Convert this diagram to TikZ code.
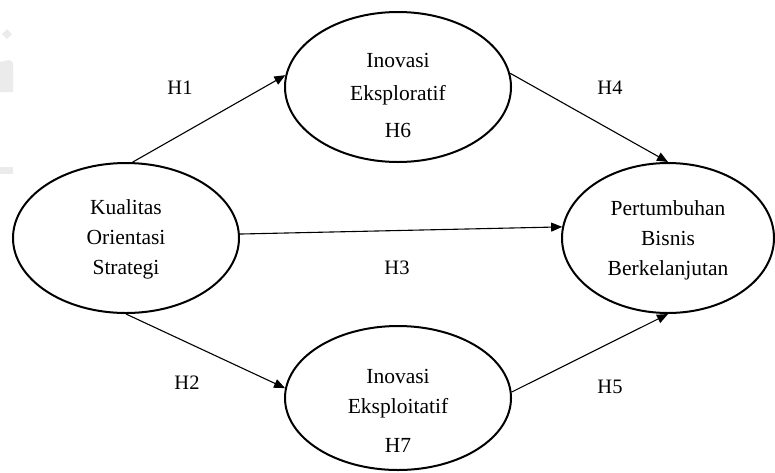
\documentclass[tikz,border=0pt]{standalone}
\usepackage{fontspec}
\setmainfont{Liberation Serif}
\usetikzlibrary{shapes.geometric,arrows.meta}
\begin{document}
\begin{tikzpicture}[x=1pt,y=-1pt,
  var/.style={ellipse,draw=black,line width=2pt,inner sep=0pt},
  vtext/.style={font=\fontsize{21.5}{30}\selectfont,align=center,inner sep=0pt},
  hlab/.style={font=\fontsize{20.5}{24}\selectfont,inner sep=0pt},
  conn/.style={line width=1.1pt,-{Triangle[length=11pt,width=9pt]}},
  wm/.style={fill=black!8,draw=none}]
\useasboundingbox (0,0) rectangle (775,472);
% faint watermark remnant
\fill[wm] (7,29) -- (12,34) -- (7,39) -- (2,34) -- cycle;
\fill[wm] (0,62) -- (9,60) .. controls (12,60) and (13,62) .. (13,66) -- (13,92) -- (0,92) -- cycle;
\fill[wm] (0,167) rectangle (13,174);
% ellipses
\node[var,minimum width=226pt,minimum height=150pt] (L) at (126,238) {};
\node[var,minimum width=226pt,minimum height=150pt] (T) at (398,87) {};
\node[var,minimum width=212pt,minimum height=150pt] (R) at (668,238) {};
\node[var,minimum width=226pt,minimum height=144pt] (B) at (398,398) {};
% texts in ellipses
\node[vtext] (Lt) at (126,239) {Kualitas\\Orientasi\\Strategi};
\node[vtext,font=\fontsize{21.5}{33}\selectfont] (Tt) at (398,79) {Inovasi\\Eksploratif};
\node[vtext] (Th) at (398,130) {H6};
\node[vtext] (Rt) at (668,240) {Pertumbuhan\\Bisnis\\Berkelanjutan};
\node[vtext] (Bt) at (398,394) {Inovasi\\Eksploitatif};
\node[vtext] (Bh) at (398,445) {H7};
% connectors
\draw[conn] (L.85) -- (T.174);
\draw[conn] (L.2) -- (R.174);
\draw[conn] (T.7) -- (R.north);
\draw[conn] (L.south) -- (B.175);
\draw[conn] (B.3) -- (R.south);
% labels
\node[hlab] (h1) at (180,88) {H1};
\node[hlab] (h4) at (610,88) {H4};
\node[hlab] (h3) at (397,268) {H3};
\node[hlab] (h2) at (187,383) {H2};
\node[hlab] (h5) at (610,387) {H5};
\end{tikzpicture}
\end{document}
